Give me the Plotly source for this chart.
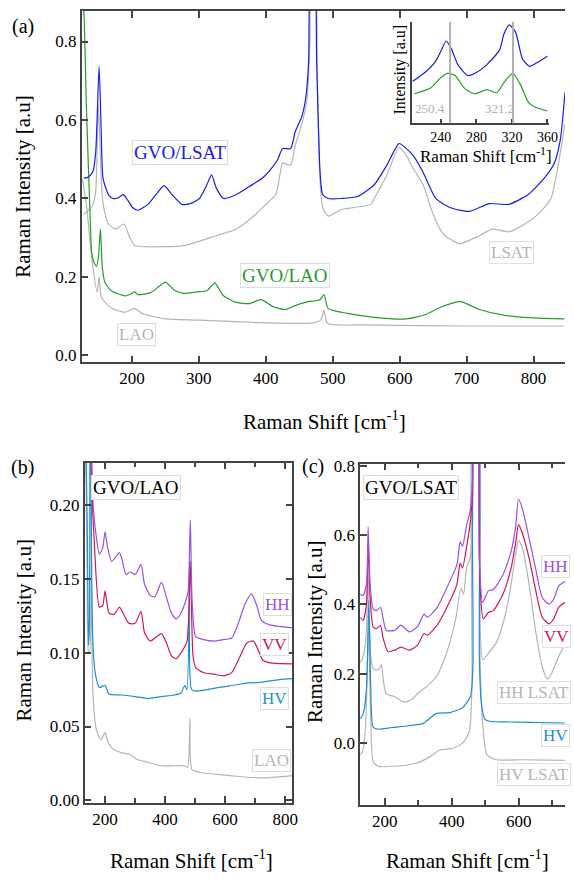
import plotly.graph_objects as go

W, H = 574, 884
FONT = "Liberation Serif, Times New Roman, serif"

# ---------------- Panel (a) data ----------------
a_lsat_film_x = [128,135,142,146,151,154,157,165,172,180,187,194,201,209,224,236,248,260,275,287,301,312,319,326,337,356,375,395,410,418,425,437,444,454,460,464,468,472,476,481,485,493,513,537,562,581,599,610,620,635,654,675,704,734,763,792,816,831,840,847]
a_lsat_film_y = [0.452,0.455,0.47,0.52,0.737,0.58,0.45,0.41,0.40,0.402,0.41,0.395,0.377,0.37,0.385,0.41,0.433,0.41,0.385,0.387,0.40,0.435,0.46,0.427,0.40,0.41,0.43,0.452,0.48,0.50,0.527,0.527,0.57,0.61,0.66,0.75,1.0,1.0,0.75,0.47,0.41,0.40,0.40,0.405,0.435,0.485,0.54,0.527,0.51,0.467,0.40,0.377,0.367,0.387,0.385,0.41,0.452,0.49,0.55,0.67]

a_lsat_sub_x = [128,138,142,146,150,153,156,160,165,172,177,188,197,204,224,278,326,356,385,400,415,422,425,437,444,454,462,466,469,473,477,481,485,493,500,513,532,557,562,581,599,610,620,635,650,665,689,719,738,763,787,807,826,835,847]
a_lsat_sub_y = [0.36,0.375,0.385,0.42,0.64,0.50,0.40,0.36,0.335,0.325,0.322,0.335,0.30,0.28,0.277,0.28,0.305,0.322,0.36,0.385,0.41,0.47,0.49,0.485,0.535,0.59,0.66,0.8,1.0,1.0,0.7,0.45,0.377,0.355,0.36,0.372,0.377,0.385,0.40,0.46,0.53,0.51,0.477,0.435,0.36,0.31,0.285,0.305,0.322,0.315,0.335,0.36,0.40,0.467,0.59]

a_lao_film_x = [126,128,132,138,140,144,147,150,153,156,160,169,190,200,204,209,228,240,250,263,278,297,312,318,324,330,337,356,375,393,410,429,444,463,481,487,493,513,522,562,610,640,660,691,719,757,807,846]
a_lao_film_y = [0.90,0.88,0.635,0.335,0.26,0.235,0.227,0.25,0.322,0.22,0.185,0.165,0.152,0.158,0.162,0.155,0.16,0.175,0.187,0.167,0.158,0.162,0.165,0.175,0.185,0.17,0.152,0.135,0.132,0.142,0.125,0.117,0.127,0.137,0.142,0.155,0.12,0.11,0.107,0.097,0.093,0.105,0.122,0.137,0.117,0.102,0.095,0.093]

a_lao_sub_x = [126,132,140,148,151,154,160,170,190,204,215,250,300,400,470,482,487,492,550,700,846]
a_lao_sub_y = [0.45,0.385,0.25,0.162,0.20,0.15,0.135,0.12,0.11,0.12,0.107,0.093,0.09,0.083,0.083,0.09,0.115,0.082,0.078,0.075,0.075]

# ---------------- Inset data ----------------
inset_lsat_x = [208,222,234,240,246,252,259,270,278,292,306,311,317,324,332,340,347,360]
inset_lsat_y = [0.41,0.50,0.61,0.71,0.81,0.73,0.58,0.47,0.49,0.58,0.72,0.88,0.97,0.90,0.63,0.56,0.59,0.66]
inset_lao_x = [210,229,240,248,256,267,278,292,303,311,321,329,339,347,360]
inset_lao_y = [0.29,0.35,0.45,0.49,0.47,0.34,0.29,0.33,0.30,0.40,0.49,0.39,0.20,0.155,0.12]
inset_marks = [250.4, 321.2]
inset_mark_labels = ["250.4", "321.2"]

# ---------------- Panel (b) data ----------------
b_hh_x = [132,150,153,156,161,170,181,192,200,208,222,235,248,257,270,284,300,320,331,350,366,388,404,421,437,453,470,477,484,490,502,529,562,595,622,644,666,688,704,721,748,781,825]
b_hh_y = [0.35,0.30,0.35,0.231,0.198,0.180,0.167,0.171,0.182,0.172,0.162,0.165,0.168,0.163,0.153,0.155,0.153,0.160,0.147,0.139,0.138,0.148,0.138,0.127,0.123,0.127,0.136,0.142,0.190,0.136,0.111,0.109,0.108,0.109,0.110,0.120,0.133,0.140,0.133,0.122,0.119,0.118,0.117]

b_vv_x = [132,150,153,164,181,192,200,213,229,248,262,279,300,320,331,350,372,388,404,421,437,453,473,484,493,502,529,562,595,622,650,672,694,710,726,759,825]
b_vv_y = [0.35,0.30,0.231,0.176,0.131,0.132,0.142,0.127,0.126,0.131,0.126,0.120,0.120,0.128,0.114,0.108,0.111,0.113,0.107,0.098,0.096,0.100,0.108,0.162,0.098,0.090,0.0865,0.0855,0.0844,0.0866,0.0977,0.1066,0.108,0.102,0.095,0.093,0.0925]

b_hv_x = [132,141,145,148,150,153,155,159,167,181,200,213,257,300,344,388,431,453,466,473,482,488,502,540,584,628,672,716,781,825]
b_hv_y = [0.30,0.18,0.105,0.12,0.40,0.30,0.165,0.109,0.0865,0.0765,0.078,0.072,0.0714,0.0703,0.069,0.0703,0.0714,0.0727,0.078,0.075,0.162,0.075,0.074,0.075,0.0767,0.078,0.0795,0.080,0.0818,0.0825]

b_lao_x = [132,140,145,148,150,153,156,159,170,186,200,208,224,257,284,305,344,388,431,464,475,483,489,518,562,617,672,737,825]
b_lao_y = [0.30,0.16,0.10,0.10,0.40,0.20,0.12,0.0755,0.0488,0.0408,0.046,0.0404,0.0352,0.0321,0.031,0.0278,0.0256,0.0234,0.0234,0.0234,0.0223,0.0553,0.021,0.0188,0.0178,0.0167,0.0156,0.0152,0.0167]

# ---------------- Panel (c) data ----------------
c_hh_x = [126,135,145,150,156,165,174,187,194,204,229,248,273,297,317,327,356,385,415,425,432,444,454,462,468,474,482,492,509,524,553,577,591,599,611,631,650,670,690,704,719,738]
c_hh_y = [0.429,0.426,0.458,0.623,0.458,0.387,0.382,0.391,0.363,0.325,0.325,0.340,0.321,0.335,0.372,0.363,0.391,0.448,0.514,0.581,0.567,0.628,0.666,0.760,1.0,1.0,0.533,0.406,0.439,0.443,0.486,0.552,0.628,0.704,0.675,0.590,0.505,0.420,0.401,0.415,0.453,0.467]

c_vv_x = [126,135,145,150,156,165,174,187,194,209,229,248,273,297,317,327,356,385,415,425,432,444,454,462,468,474,484,494,509,524,553,577,591,599,611,631,650,670,690,704,719,738]
c_vv_y = [0.363,0.354,0.401,0.576,0.420,0.335,0.330,0.339,0.306,0.264,0.268,0.277,0.268,0.282,0.316,0.311,0.340,0.391,0.457,0.519,0.505,0.566,0.628,0.72,1.0,1.0,0.457,0.358,0.377,0.382,0.430,0.505,0.580,0.630,0.604,0.533,0.443,0.363,0.344,0.358,0.391,0.406]

c_hhs_x = [126,133,142,146,150,154,158,165,172,181,190,194,204,226,258,283,300,327,356,385,412,427,435,444,454,462,468,474,484,492,509,534,558,577,590,599,611,631,650,670,685,699,719,738]
c_hhs_y = [0.231,0.245,0.287,0.35,0.50,0.33,0.249,0.215,0.212,0.212,0.226,0.193,0.141,0.135,0.118,0.128,0.145,0.165,0.195,0.262,0.36,0.448,0.429,0.505,0.533,0.628,1.0,1.0,0.344,0.240,0.259,0.292,0.363,0.457,0.543,0.585,0.562,0.457,0.325,0.221,0.185,0.203,0.249,0.287]

c_hv_x = [126,135,145,152,158,165,181,221,270,315,353,394,432,456,463,468,476,482,488,498,512,561,630,738]
c_hv_y = [0.070,0.084,0.155,0.410,0.155,0.046,0.040,0.045,0.050,0.057,0.085,0.088,0.102,0.136,0.22,1.0,1.0,0.25,0.117,0.070,0.063,0.061,0.060,0.058]

c_hvs_x = [126,133,142,151,158,165,181,239,294,335,364,403,432,452,460,466,477,484,492,505,534,613,738]
c_hvs_y = [-0.034,-0.025,0.040,0.33,0.059,-0.053,-0.067,-0.066,-0.058,-0.039,-0.020,-0.015,0.0,0.032,0.155,1.0,1.0,0.25,0.059,-0.034,-0.048,-0.048,-0.050]

# ---------------- styling ----------------
BLUE = "#1c1ce6"
GREEN = "#2b9a2b"
GRAY = "#b5b5b5"
PURPLE = "#9b52e0"
CRIMSON = "#d2165f"
HVBLUE = "#1f8fd0"
AXC = "#444444"


def px(x):
    return x / W


def py(y):
    return 1 - y / H


fig = go.Figure()


def add(x, y, color, xa, ya, width=1.2):
    fig.add_trace(go.Scatter(x=x, y=y, mode="lines",
                             line=dict(color=color, width=width, shape="spline", smoothing=0.6),
                             xaxis=xa, yaxis=ya, showlegend=False, hoverinfo="skip"))


# panel a
add(a_lao_sub_x, a_lao_sub_y, GRAY, "x", "y")
add(a_lsat_sub_x, a_lsat_sub_y, GRAY, "x", "y")
add(a_lao_film_x, a_lao_film_y, GREEN, "x", "y")
add(a_lsat_film_x, a_lsat_film_y, BLUE, "x", "y")
# inset
add(inset_lsat_x, inset_lsat_y, BLUE, "x2", "y2")
add(inset_lao_x, inset_lao_y, GREEN, "x2", "y2")
# panel b
add(b_lao_x, b_lao_y, GRAY, "x3", "y3")
add(b_hv_x, b_hv_y, HVBLUE, "x3", "y3")
add(b_vv_x, b_vv_y, CRIMSON, "x3", "y3")
add(b_hh_x, b_hh_y, PURPLE, "x3", "y3")
# panel c
add(c_hvs_x, c_hvs_y, GRAY, "x4", "y4")
add(c_hhs_x, c_hhs_y, GRAY, "x4", "y4")
add(c_hv_x, c_hv_y, HVBLUE, "x4", "y4")
add(c_vv_x, c_vv_y, CRIMSON, "x4", "y4")
add(c_hh_x, c_hh_y, PURPLE, "x4", "y4")

tickfont = dict(family=FONT, size=17, color="black")
base = dict(showgrid=False, zeroline=False, showline=True, linecolor=AXC, linewidth=1.5,
            ticks="inside", tickcolor=AXC, ticklen=7, tickwidth=1.5, tickfont=tickfont)

fig.update_layout(
    width=W, height=H, margin=dict(l=0, r=0, t=0, b=0),
    paper_bgcolor="white", plot_bgcolor="rgba(0,0,0,0)",
    # panel a
    xaxis=dict(base, domain=[px(83), 1.0], range=[125, 847], dtick=100, tick0=0,
               mirror="ticks", anchor="y"),
    yaxis=dict(base, domain=[py(361), py(4)], range=[-0.0175, 0.878], dtick=0.2,
               tickformat=".1f", anchor="x"),
    yaxis5=dict(showgrid=False, zeroline=False, showline=False, ticks="inside", tickcolor=AXC,
                ticklen=7, tickwidth=1.5, showticklabels=False, overlaying="y", side="right",
                anchor="x", range=[-0.0175, 0.878], dtick=0.2),
    # inset
    xaxis2=dict(base, domain=[px(419), px(558)], range=[208, 362], dtick=40, tick0=0,
                ticklen=4, tickfont=dict(family=FONT, size=14, color="black"), anchor="y2"),
    yaxis2=dict(base, domain=[py(118), py(15)], range=[0, 1.0], ticks="", showticklabels=False,
                anchor="x2"),
    # panel b
    xaxis3=dict(base, domain=[px(86), px(297)], range=[132, 824], dtick=200, tick0=0,
                mirror="ticks", minor=dict(dtick=100, ticks="inside", ticklen=5, tickcolor=AXC),
                anchor="y3"),
    yaxis3=dict(base, domain=[py(809), py(463)], range=[-0.002, 0.229], dtick=0.05,
                tickformat=".2f", mirror="ticks", anchor="x3"),
    # panel c
    xaxis4=dict(base, domain=[px(366), 1.0], range=[126.5, 738], dtick=200, tick0=0,
                mirror="ticks", minor=dict(dtick=100, ticks="inside", ticklen=5, tickcolor=AXC),
                anchor="y4"),
    yaxis4=dict(base, domain=[py(811), py(464)], range=[-0.179, 0.806], dtick=0.2,
                tickformat=".1f", anchor="x4"),
)

# inset marker lines
for m in inset_marks:
    fig.add_shape(type="line", xref="x2", yref="y2 domain", x0=m, x1=m, y0=0, y1=1,
                  line=dict(color="#b0b0b0", width=2))

ann = []


def text(x, y, s, size, color="black", angle=0, box=False, xanchor="center"):
    d = dict(x=px(x), y=py(y), xref="paper", yref="paper", text=s, showarrow=False,
             font=dict(family=FONT, size=size, color=color), textangle=angle,
             xanchor=xanchor, yanchor="middle")
    if box:
        d.update(bordercolor="#dedede", borderwidth=1, borderpad=1, bgcolor="white")
    ann.append(d)


# panel labels
text(23, 20, "(a)", 20)
text(23, 468, "(b)", 20)
text(318, 467, "(c)", 20)
# axis titles
XT = "Raman Shift [cm<sup>-1</sup>]"
YT = "Raman Intensity [a.u]"
text(330, 420, XT, 21)
text(23, 182, YT, 21, angle=-90)
text(195, 866, XT, 21)
text(24, 633, YT, 21, angle=-90)
text(475, 866, XT, 21)
text(320, 634, YT, 21, angle=-90)
# inset titles
text(494, 150, XT, 17)
text(406, 64, "Intensity [a.u]", 16, angle=-90)
for m, lab, xpos in zip(inset_marks, inset_mark_labels, [437, 507]):
    text(xpos, 103, lab, 13, color="#b0b0b0")
# series labels panel a
text(183, 148, "GVO/LSAT", 19, BLUE, box=True)
text(520, 249, "LSAT", 17, GRAY, box=True)
text(290, 273, "GVO/LAO", 19, GREEN, box=True)
text(139, 333, "LAO", 17, GRAY, box=True)
# panel b
text(138, 488, "GVO/LAO", 19, "black", box=True)
text(282, 607, "HH", 17, PURPLE, box=True)
text(279, 648, "VV", 17, CRIMSON, box=True)
text(279, 703, "HV", 17, HVBLUE, box=True)
text(276, 766, "LAO", 17, GRAY, box=True)
# panel c
text(418, 488, "GVO/LSAT", 19, "black", box=True)
text(550, 568, "HH", 17, PURPLE, box=True, xanchor="left")
text(551, 640, "VV", 17, CRIMSON, box=True, xanchor="left")
text(505, 697, "HH LSAT", 17, GRAY, box=True, xanchor="left")
text(550, 740, "HV", 17, HVBLUE, box=True, xanchor="left")
text(505, 780, "HV LSAT", 17, GRAY, box=True, xanchor="left")

fig.update_layout(annotations=ann)
fig.write_html("out.html")
